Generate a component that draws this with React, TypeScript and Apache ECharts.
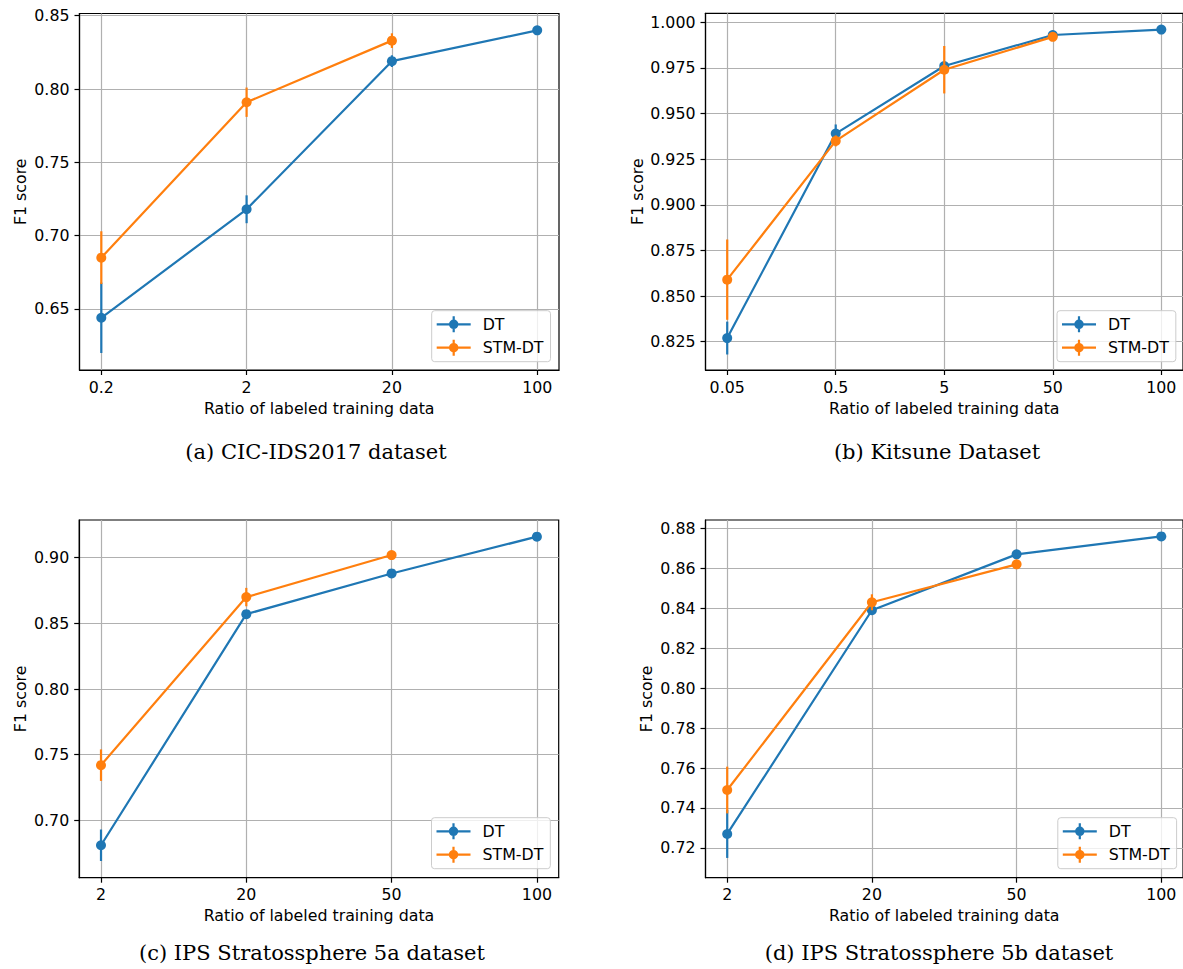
import React, { useEffect, useRef } from "react";
import * as echarts from "echarts";

// ---------- data ----------
const catsA = ["0.2", "2", "20", "100"];
const dtA = [0.644, 0.718, 0.819, 0.84];
const dtErrA = [0.024, 0.0095, 0.004, 0.001];
const stmA = [0.685, 0.791, 0.833];
const stmErrA = [0.018, 0.01, 0.005];
const yTicksA = [0.65, 0.7, 0.75, 0.8, 0.85];

const catsB = ["0.05", "0.5", "5", "50", "100"];
const dtB = [0.827, 0.939, 0.976, 0.993, 0.996];
const dtErrB = [0.009, 0.005, 0.002, 0.001, 0.001];
const stmB = [0.859, 0.935, 0.974, 0.992];
const stmErrB = [0.022, 0.003, 0.013, 0.002];
const yTicksB = [0.825, 0.85, 0.875, 0.9, 0.925, 0.95, 0.975, 1.0];

const catsC = ["2", "20", "50", "100"];
const dtC = [0.681, 0.857, 0.888, 0.916];
const dtErrC = [0.012, 0.003, 0.001, 0.001];
const stmC = [0.742, 0.87, 0.902];
const stmErrC = [0.012, 0.007, 0.001];
const yTicksC = [0.7, 0.75, 0.8, 0.85, 0.9];

const catsD = ["2", "20", "50", "100"];
const dtD = [0.727, 0.839, 0.867, 0.876];
const dtErrD = [0.012, 0.002, 0.001, 0.001];
const stmD = [0.749, 0.843, 0.862];
const stmErrD = [0.0117, 0.004, 0.001];
const yTicksD = [0.72, 0.74, 0.76, 0.78, 0.8, 0.82, 0.84, 0.86, 0.88];

const captions = [
  "(a) CIC-IDS2017 dataset",
  "(b) Kitsune Dataset",
  "(c) IPS Stratossphere 5a dataset",
  "(d) IPS Stratossphere 5b dataset",
];
const seriesNames = ["DT", "STM-DT"];
const xTitle = "Ratio of labeled training data";
const yTitle = "F1 score";

// ---------- layout / style ----------
const BLUE = "#1f77b4";
const ORANGE = "#ff7f0e";
const FONT = "DejaVu Sans";
const FS = 15.8;
const LW = 2.2;

const panels = [
  { cats: catsA, dt: dtA, dtErr: dtErrA, stm: stmA, stmErr: stmErrA, ticks: yTicksA, dec: 2,
    yMin: 0.6084, yMax: 0.8515,
    grid: { left: 79.5, top: 13.5, width: 479.5, height: 356.5 }, nameGap: 51,
    legend: { left: 431.7, top: 310.7 }, cap: { x: 316, y: 451.5 } },
  { cats: catsB, dt: dtB, dtErr: dtErrB, stm: stmB, stmErr: stmErrB, ticks: yTicksB, dec: 3,
    yMin: 0.8095, yMax: 1.0049,
    grid: { left: 705.5, top: 13.3, width: 480.5, height: 356.7 }, nameGap: 60.5,
    legend: { left: 1057, top: 310.7 }, cap: { x: 937, y: 451.5 } },
  { cats: catsC, dt: dtC, dtErr: dtErrC, stm: stmC, stmErr: stmErrC, ticks: yTicksC, dec: 2,
    yMin: 0.6563, yMax: 0.9287,
    grid: { left: 79.2, top: 520, width: 479.5, height: 357.7 }, nameGap: 51,
    legend: { left: 431.5, top: 817.7 }, cap: { x: 312, y: 953 } },
  { cats: catsD, dt: dtD, dtErr: dtErrD, stm: stmD, stmErr: stmErrD, ticks: yTicksD, dec: 2,
    yMin: 0.7051, yMax: 0.8842,
    grid: { left: 705.5, top: 520, width: 480.5, height: 357.7 }, nameGap: 51,
    legend: { left: 1057.8, top: 817.7 }, cap: { x: 939, y: 953 } },
];

const LEGEND_ICON =
  "path://M0 6.9L34 6.9L34 9.1L0 9.1Z M15.9 0L18.1 0L18.1 16L15.9 16Z M12.25 8A4.75 4.75 0 1 1 21.75 8A4.75 4.75 0 1 1 12.25 8Z";

function buildOption() {
  const grid: any[] = [];
  const xAxis: any[] = [];
  const yAxis: any[] = [];
  const series: any[] = [];
  const legend: any[] = [];
  const graphic: any[] = [];

  panels.forEach((p, i) => {
    const n = p.cats.length;
    const span = n - 1;
    const idx = p.cats.map((_, j) => j);
    grid.push({
      ...p.grid,
      show: true,
      borderColor: "#000",
      borderWidth: 1.2,
      backgroundColor: "#fff",
      containLabel: false,
    });
    xAxis.push({
      type: "value",
      gridIndex: i,
      min: -0.05 * span,
      max: span + 0.05 * span,
      name: xTitle,
      nameLocation: "middle",
      nameGap: 30,
      nameTextStyle: { fontFamily: FONT, fontSize: FS, color: "#000" },
      axisLine: { show: true, onZero: false, lineStyle: { color: "#000", width: 1.2 } },
      axisTick: { show: true, length: 5, customValues: idx, lineStyle: { color: "#000", width: 1.2 } },
      axisLabel: {
        show: true,
        customValues: idx,
        margin: 9,
        fontFamily: FONT,
        fontSize: FS,
        color: "#000",
        formatter: (v: number) => p.cats[Math.round(v)],
      },
      splitLine: { show: true, lineStyle: { color: "#b0b0b0", width: 1.2 } },
    });
    yAxis.push({
      type: "value",
      gridIndex: i,
      min: p.yMin,
      max: p.yMax,
      name: yTitle,
      nameLocation: "middle",
      nameGap: p.nameGap,
      nameTextStyle: { fontFamily: FONT, fontSize: FS, color: "#000" },
      axisLine: { show: true, onZero: false, lineStyle: { color: "#000", width: 1.2 } },
      axisTick: { show: true, length: 5, customValues: p.ticks, lineStyle: { color: "#000", width: 1.2 } },
      axisLabel: {
        show: true,
        customValues: p.ticks,
        margin: 10,
        fontFamily: FONT,
        fontSize: FS,
        color: "#000",
        formatter: (v: number) => v.toFixed(p.dec),
      },
      splitLine: { show: true, lineStyle: { color: "#b0b0b0", width: 1.2 } },
    });

    const pairs = [
      { name: seriesNames[0], vals: p.dt, errs: p.dtErr, color: BLUE, z: 3 },
      { name: seriesNames[1], vals: p.stm, errs: p.stmErr, color: ORANGE, z: 5 },
    ];
    pairs.forEach((s) => {
      series.push({
        type: "custom",
        name: s.name + " error",
        xAxisIndex: i,
        yAxisIndex: i,
        z: s.z,
        silent: true,
        data: s.vals.map((v, j) => [j, v - s.errs[j], v + s.errs[j]]),
        encode: { x: 0, y: [1, 2] },
        renderItem: (params: any, api: any) => {
          const x = api.value(0);
          const a = api.coord([x, api.value(1)]);
          const b = api.coord([x, api.value(2)]);
          return {
            type: "line",
            shape: { x1: a[0], y1: a[1], x2: b[0], y2: b[1] },
            style: { stroke: s.color, lineWidth: LW },
          };
        },
      });
      series.push({
        type: "line",
        name: s.name,
        xAxisIndex: i,
        yAxisIndex: i,
        z: s.z + 1,
        data: s.vals.map((v, j) => [j, v]),
        symbol: "circle",
        symbolSize: 10,
        showAllSymbol: true,
        lineStyle: { color: s.color, width: LW },
        itemStyle: { color: s.color, borderWidth: 0 },
        emphasis: { disabled: true },
      });
    });

    legend.push({
      show: true,
      data: seriesNames,
      orient: "vertical",
      left: p.legend.left,
      top: p.legend.top,
      padding: [5.6, 7, 6, 5],
      itemGap: 7.4,
      itemWidth: 34,
      itemHeight: 16,
      icon: LEGEND_ICON,
      backgroundColor: "rgba(255,255,255,0.8)",
      borderColor: "#cccccc",
      borderWidth: 1,
      borderRadius: 3,
      selectedMode: false,
      itemStyle: { borderWidth: 0 },
      textStyle: { fontFamily: FONT, fontSize: FS, color: "#000", padding: [0, 0, 0, 7] },
    });

    graphic.push({
      type: "text",
      x: p.cap.x,
      y: p.cap.y,
      style: {
        text: captions[i],
        fontFamily: "DejaVu Serif",
        fontSize: 21,
        fill: "#000",
        textAlign: "center",
        textVerticalAlign: "middle",
      },
    });
  });

  return {
    animation: false,
    backgroundColor: "#fff",
    grid,
    xAxis,
    yAxis,
    series,
    legend,
    graphic,
  };
}

export default function App() {
  const ref = useRef<HTMLDivElement>(null);
  useEffect(() => {
    document.body.style.margin = "0";
    if (!ref.current) return;
    const chart = echarts.init(ref.current, undefined, { renderer: "svg" });
    chart.setOption(buildOption() as any);
    return () => chart.dispose();
  }, []);
  return (
    <div
      ref={ref}
      style={{ position: "absolute", left: 0, top: 0, width: 1183, height: 969, background: "#fff" }}
    />
  );
}
